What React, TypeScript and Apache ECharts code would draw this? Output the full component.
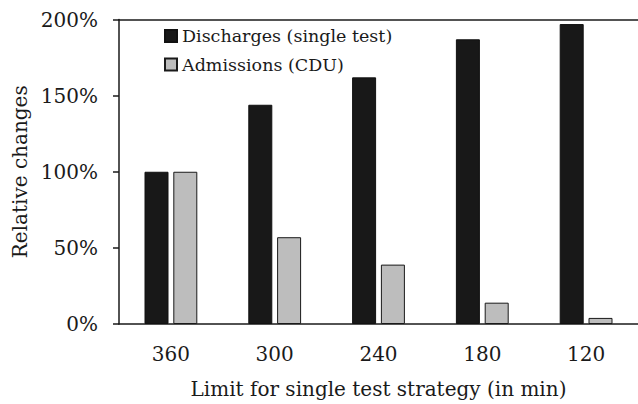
import React, { useEffect, useRef } from "react";
import * as echarts from "echarts";

const categories = ["360", "300", "240", "180", "120"];
const discharges = [100, 144, 162, 187, 197];
const admissions = [100, 57, 39, 14, 4];
const seriesNames = ["Discharges (single test)", "Admissions (CDU)"];
const yTicks = { min: 0, max: 200, interval: 50 };

const FONT = "DejaVu Serif";
const INK = "#1a1a1a";

export default function App() {
  const ref = useRef<HTMLDivElement>(null);
  useEffect(() => {
    if (!ref.current) return;
    const chart = echarts.init(ref.current, null, { renderer: "svg" });
    chart.setOption({
      animation: false,
      backgroundColor: "#ffffff",
      textStyle: { fontFamily: FONT, color: INK },
      grid: { left: 119, right: 0, top: 19.5, bottom: 80, containLabel: false },
      legend: {
        orient: "vertical",
        left: 159,
        top: 21,
        itemWidth: 12,
        itemHeight: 12,
        itemGap: 8.5,
        icon: "rect",
        textStyle: { fontFamily: FONT, fontSize: 17.5, color: INK, lineHeight: 20 },
        data: seriesNames,
      },
      xAxis: [
        {
          type: "category",
          data: categories,
          position: "bottom",
          axisLine: { show: true, lineStyle: { color: INK, width: 1.5 } },
          axisTick: { show: false },
          axisLabel: { fontFamily: FONT, fontSize: 20, color: INK, margin: 20 },
          name: "Limit for single test strategy (in min)",
          nameLocation: "middle",
          nameGap: 55,
          nameTextStyle: { fontFamily: FONT, fontSize: 20, color: INK },
        },
        {
          type: "category",
          data: categories,
          position: "top",
          axisLine: { show: true, lineStyle: { color: INK, width: 1.5 } },
          axisTick: { show: false },
          axisLabel: { show: false },
        },
      ],
      yAxis: {
        type: "value",
        min: yTicks.min,
        max: yTicks.max,
        interval: yTicks.interval,
        axisLine: { show: true, lineStyle: { color: INK, width: 1.5 } },
        axisTick: { show: true, length: 6, lineStyle: { color: INK, width: 1.5 } },
        splitLine: { show: false },
        axisLabel: {
          fontFamily: FONT,
          fontSize: 20,
          color: INK,
          margin: 21,
          formatter: (v: number) => v + "%",
        },
        name: "Relative changes",
        nameLocation: "middle",
        nameGap: 88,
        nameTextStyle: { fontFamily: FONT, fontSize: 20, color: INK },
      },
      series: [
        {
          name: seriesNames[0],
          type: "bar",
          data: discharges,
          barWidth: 24,
          barGap: "20%",
          itemStyle: { color: "#181818", borderColor: "#111111", borderWidth: 1 },
        },
        {
          name: seriesNames[1],
          type: "bar",
          data: admissions,
          barWidth: 24,
          barGap: "20%",
          itemStyle: { color: "#bdbdbd", borderColor: "#1a1a1a", borderWidth: 1 },
        },
      ],
    });
    return () => chart.dispose();
  }, []);
  return <div ref={ref} style={{ width: 638, height: 404, position: "absolute", left: 0, top: 0 }} />;
}
